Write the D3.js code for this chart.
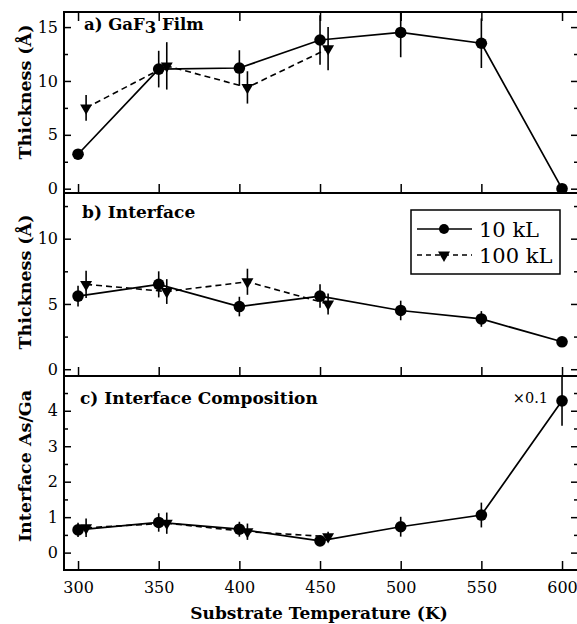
<!DOCTYPE html>
<html>
<head>
<meta charset="utf-8">
<script src="https://cdnjs.cloudflare.com/ajax/libs/d3/7.8.5/d3.min.js"></script>
<style>
    body { margin: 0; background: #fff; }
    svg { display: block; }
    .tick text { font-family: "DejaVu Serif", serif; font-size: 16px; fill: #000; }
    .tick line { stroke: #000; stroke-width: 1.5; }
    .bold { font-family: "DejaVu Serif", serif; font-weight: bold; fill: #000; }
</style>
</head>
<body>
<div class="container"></div>
<script>
// temperatures (K); the 100 kL points sit a little to the right in the original
var temps10 = [300, 350, 400, 450, 500, 550, 600];
var temps100 = [305, 355, 405, 455];
var xTicks = [300, 350, 400, 450, 500, 550, 600];

// a) GaF3 film thickness (Å)
var film10 = [3.2, 11.1, 11.2, 13.8, 14.5, 13.5, 0];
var filmErr10 = [0, 1.7, 1.65, 2.3, 2.3, 2.3, 0];
var film100 = [7.5, 11.4, 9.4, 13.0];
var filmErr100 = [1.2, 2.2, 1.5, 2.0];

// b) interface thickness (Å)
var iface10 = [5.6, 6.5, 4.8, 5.6, 4.5, 3.85, 2.1];
var ifaceErr10 = [0.8, 1.0, 0.75, 0.9, 0.75, 0.6, 0];
var iface100 = [6.5, 5.95, 6.7, 5.0];
var ifaceErr100 = [1.05, 0.95, 1.0, 0.8];

// c) interface As/Ga ratio (last 10 kL point is x0.1)
var ratio10 = [0.64, 0.85, 0.66, 0.33, 0.73, 1.06, 4.28];
var ratioErr10 = [0.2, 0.26, 0.21, 0.1, 0.28, 0.35, 0.7];
var ratio100 = [0.7, 0.83, 0.59, 0.45];
var ratioErr100 = [0.26, 0.3, 0.23, 0.14];

var yTicksThick = [0, 5, 10, 15];
var yMinorThick = [2.5, 7.5, 12.5];
var yTicksRatio = [0, 1, 2, 3, 4];
var yMinorRatio = [0.5, 1.5, 2.5, 3.5, 4.5];

var width = 577, height = 624;
var left = 64, right = 578;

var svg = d3.select(".container")
    .append("svg")
    .attr("width", width)
    .attr("height", height);

var x = d3.scaleLinear().domain([291.3, 609.9]).range([left, right]);

var panels = [
    {top: 12, bottom: 193, domain: [-0.4, 16.4], ticks: yTicksThick, minor: yMinorThick,
     v10: film10, e10: filmErr10, v100: film100, e100: filmErr100,
     title: "Thickness (Å)", titleY: 92},
    {top: 193, bottom: 376, domain: [-0.52, 13.5], ticks: yTicksThick, minor: yMinorThick,
     v10: iface10, e10: ifaceErr10, v100: iface100, e100: ifaceErr100,
     title: "Thickness (Å)", titleY: 282},
    {top: 376, bottom: 570, domain: [-0.49, 4.98], ticks: yTicksRatio, minor: yMinorRatio,
     v10: ratio10, e10: ratioErr10, v100: ratio100, e100: ratioErr100,
     title: "Interface As/Ga", titleY: 466}
];

var triangle = d3.symbol().type(d3.symbolTriangle).size(62);

function noDomain(g) { g.select(".domain").remove(); }

panels.forEach(function(p, i) {
    var y = d3.scaleLinear().domain(p.domain).range([p.bottom, p.top]);
    var g = svg.append("g");
    // only ticks that fall inside this panel
    var inside = v => v >= p.domain[0] && v <= p.domain[1];
    var major = p.ticks.filter(inside), minor = p.minor.filter(inside);

    svg.append("clipPath").attr("id", "clip" + i)
        .append("rect")
        .attr("x", left).attr("y", p.top)
        .attr("width", right - left).attr("height", p.bottom - p.top);

    // left / right ticks pointing in
    g.append("g").attr("transform", "translate(" + left + ",0)")
        .call(d3.axisLeft(y).tickValues(major).tickSize(-7).tickPadding(6).tickFormat(d3.format("d")))
        .call(noDomain);
    g.append("g").attr("transform", "translate(" + left + ",0)")
        .call(d3.axisLeft(y).tickValues(minor).tickSize(-4).tickFormat(""))
        .call(noDomain);
    g.append("g").attr("transform", "translate(" + right + ",0)")
        .call(d3.axisRight(y).tickValues(major).tickSize(-7).tickFormat(""))
        .call(noDomain);
    g.append("g").attr("transform", "translate(" + right + ",0)")
        .call(d3.axisRight(y).tickValues(minor).tickSize(-4).tickFormat(""))
        .call(noDomain);

    // bottom ticks, labels only on the last panel
    var xb = d3.axisBottom(x).tickValues(xTicks).tickSize(-9).tickPadding(12);
    if (i < panels.length - 1) xb.tickFormat("");
    g.append("g").attr("transform", "translate(0," + p.bottom + ")").call(xb).call(noDomain);
    if (i == 0) {
        g.append("g").attr("transform", "translate(0," + p.top + ")")
            .call(d3.axisTop(x).tickValues(xTicks).tickSize(-9).tickFormat(""))
            .call(noDomain);
    }

    g.append("rect")
        .attr("x", left).attr("y", p.top)
        .attr("width", right - left).attr("height", p.bottom - p.top)
        .attr("fill", "none").attr("stroke", "#000").attr("stroke-width", 2);

    g.append("text")
        .attr("class", "bold")
        .attr("transform", "translate(31," + p.titleY + ") rotate(-90)")
        .attr("text-anchor", "middle")
        .style("font-size", "17.5px")
        .text(p.title);

    var d10 = d3.zip(temps10, p.v10, p.e10);
    var d100 = d3.zip(temps100, p.v100, p.e100);
    var line = d3.line().x(d => x(d[0])).y(d => y(d[1]));
    var plot = g.append("g").attr("clip-path", "url(#clip" + i + ")");

    plot.append("path").datum(d100)
        .attr("d", line).attr("fill", "none").attr("stroke", "#000")
        .attr("stroke-width", 1.6).attr("stroke-dasharray", "6,4");
    plot.append("path").datum(d10)
        .attr("d", line).attr("fill", "none").attr("stroke", "#000")
        .attr("stroke-width", 1.7);

    // error bars
    plot.selectAll(".err").data(d10.concat(d100).filter(d => d[2] > 0))
        .enter()
            .append("line")
            .attr("x1", d => x(d[0])).attr("x2", d => x(d[0]))
            .attr("y1", d => y(d[1] - d[2])).attr("y2", d => y(d[1] + d[2]))
            .attr("stroke", "#000").attr("stroke-width", 1.6);

    plot.selectAll(".dot").data(d10)
        .enter()
            .append("circle")
            .attr("cx", d => x(d[0])).attr("cy", d => y(d[1]))
            .attr("r", 5.8).attr("fill", "#000");
    plot.selectAll(".tri").data(d100)
        .enter()
            .append("path")
            .attr("d", triangle)
            .attr("transform", d => "translate(" + x(d[0]) + "," + y(d[1]) + ") rotate(180)")
            .attr("fill", "#000");
});

// panel labels
var la = svg.append("text").attr("class", "bold").attr("x", 84).attr("y", 30).style("font-size", "16.5px");
la.append("tspan").text("a)  GaF");
la.append("tspan").attr("dy", 3).text("3");
la.append("tspan").attr("dy", -3).text(" Film");
svg.append("text").attr("class", "bold").attr("x", 82).attr("y", 218).style("font-size", "17px")
    .text("b)  Interface");
svg.append("text").attr("class", "bold").attr("x", 80).attr("y", 404).style("font-size", "17px")
    .text("c)  Interface Composition");

svg.append("text")
    .attr("x", 548).attr("y", 403)
    .attr("text-anchor", "end")
    .style("font-family", "DejaVu Serif, serif").style("font-size", "14.5px")
    .text("×0.1");

// x axis title
svg.append("text").attr("class", "bold")
    .attr("x", 319).attr("y", 619)
    .attr("text-anchor", "middle")
    .style("font-size", "17px")
    .text("Substrate Temperature (K)");

// legend
var legend = svg.append("g");
legend.append("rect")
    .attr("x", 411).attr("y", 210).attr("width", 149).attr("height", 64)
    .attr("fill", "#fff").attr("stroke", "#000").attr("stroke-width", 1.5);
legend.append("line").attr("x1", 417).attr("x2", 472).attr("y1", 229).attr("y2", 229)
    .attr("stroke", "#000").attr("stroke-width", 1.3);
legend.append("circle").attr("cx", 444).attr("cy", 229).attr("r", 5).attr("fill", "#000");
legend.append("line").attr("x1", 417).attr("x2", 472).attr("y1", 255).attr("y2", 255)
    .attr("stroke", "#000").attr("stroke-width", 1.3).attr("stroke-dasharray", "5,4");
legend.append("path").attr("d", triangle).attr("transform", "translate(444,255) rotate(180)");
legend.append("text").attr("x", 479).attr("y", 237)
    .style("font-family", "DejaVu Serif, serif").style("font-size", "21px").text("10 kL");
legend.append("text").attr("x", 479).attr("y", 263)
    .style("font-family", "DejaVu Serif, serif").style("font-size", "21px").text("100 kL");
</script>
</body>
</html>
